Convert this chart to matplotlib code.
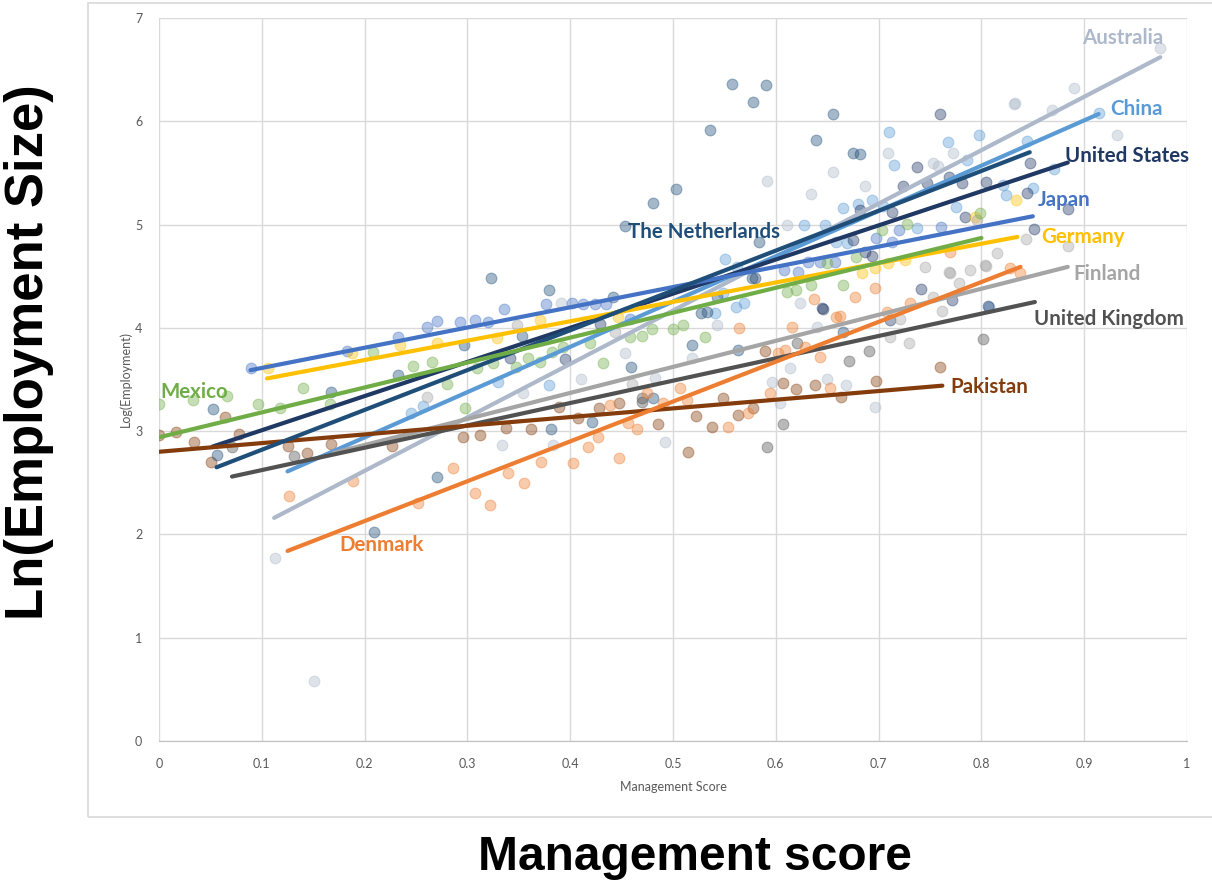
import matplotlib
matplotlib.use("Agg")
import matplotlib.pyplot as plt
from matplotlib.patches import Rectangle

# firm-level observations per country: management score vs log employment
aus_x = [0.113, 0.151, 0.334, 0.383, 0.492, 0.354, 0.410, 0.453, 0.482, 0.518, 0.391, 0.543,
         0.591, 0.611, 0.634, 0.656, 0.687, 0.709, 0.753, 0.758, 0.772, 0.832, 0.833, 0.869,
         0.890, 0.932, 0.974, 0.614, 0.596, 0.604, 0.650, 0.668, 0.696, 0.624, 0.640]
aus_y = [1.77, 0.58, 2.87, 2.87, 2.89, 3.37, 3.50, 3.76, 3.51, 3.71, 4.24, 4.03,
         5.42, 5.00, 5.30, 5.51, 5.37, 5.69, 5.60, 5.57, 5.69, 6.17, 6.18, 6.11,
         6.32, 5.87, 6.71, 3.61, 3.48, 3.27, 3.50, 3.45, 3.23, 4.24, 4.01]

chn_x = [0.257, 0.245, 0.330, 0.379, 0.541, 0.549, 0.561, 0.569, 0.551, 0.562, 0.627, 0.648,
         0.659, 0.669, 0.665, 0.680, 0.694, 0.704, 0.710, 0.715, 0.737, 0.767, 0.775, 0.786,
         0.798, 0.821, 0.824, 0.844, 0.850, 0.871, 0.914, 0.807]
chn_y = [3.24, 3.18, 3.48, 3.45, 4.14, 4.34, 4.20, 4.24, 4.67, 4.59, 5.00, 5.00,
         4.83, 4.82, 5.16, 5.20, 5.24, 5.18, 5.90, 5.58, 4.97, 5.80, 5.17, 5.62,
         5.87, 5.38, 5.29, 5.81, 5.35, 5.54, 6.08, 4.20]

usa_x = [0.760, 0.737, 0.724, 0.768, 0.781, 0.804, 0.784, 0.741, 0.645, 0.682, 0.713, 0.747,
         0.847, 0.844, 0.884, 0.851, 0.675, 0.687, 0.694, 0.580, 0.806, 0.771, 0.711, 0.646,
         0.341, 0.395, 0.429]
usa_y = [6.07, 5.56, 5.37, 5.46, 5.40, 5.41, 5.07, 4.38, 4.19, 5.14, 5.12, 5.40,
         5.60, 5.31, 5.15, 4.96, 4.85, 4.73, 4.70, 4.48, 4.21, 4.27, 4.08, 4.18,
         3.71, 3.70, 4.04]

jpn_x = [0.089, 0.183, 0.232, 0.261, 0.270, 0.293, 0.307, 0.320, 0.336, 0.376, 0.402, 0.412,
         0.424, 0.435, 0.458, 0.608, 0.622, 0.631, 0.643, 0.658, 0.697, 0.713, 0.720, 0.761]
jpn_y = [3.61, 3.78, 3.91, 4.01, 4.07, 4.06, 4.08, 4.06, 4.18, 4.23, 4.24, 4.23,
         4.23, 4.23, 4.09, 4.56, 4.54, 4.64, 4.64, 4.64, 4.87, 4.83, 4.95, 4.98]

deu_x = [0.106, 0.188, 0.234, 0.270, 0.329, 0.371, 0.446, 0.684, 0.696, 0.709, 0.726, 0.794, 0.834]
deu_y = [3.61, 3.76, 3.83, 3.85, 3.90, 4.08, 4.10, 4.53, 4.58, 4.63, 4.66, 5.07, 5.24]

fin_x = [0.745, 0.768, 0.789, 0.803, 0.815, 0.778, 0.804, 0.769, 0.843, 0.884, 0.796,
         0.261, 0.348, 0.444, 0.460, 0.721, 0.711, 0.730, 0.762, 0.753]
fin_y = [4.59, 4.54, 4.56, 4.61, 4.72, 4.43, 4.60, 4.53, 4.86, 4.79, 5.04,
         3.33, 4.03, 3.96, 3.46, 4.09, 3.91, 3.85, 4.16, 4.30]

gbr_x = [0.131, 0.071, 0.802, 0.691, 0.671, 0.607, 0.470, 0.470, 0.591, 0.621]
gbr_y = [2.76, 2.85, 3.89, 3.78, 3.68, 3.07, 3.32, 3.28, 2.85, 3.85]

pak_x = [0.000, 0.017, 0.034, 0.051, 0.064, 0.078, 0.125, 0.144, 0.167, 0.227, 0.296, 0.312,
         0.338, 0.362, 0.389, 0.408, 0.428, 0.447, 0.485, 0.515, 0.522, 0.538, 0.549, 0.563,
         0.578, 0.589, 0.607, 0.620, 0.638, 0.663, 0.697, 0.760]
pak_y = [2.96, 2.99, 2.89, 2.70, 3.14, 2.97, 2.86, 2.79, 2.88, 2.86, 2.94, 2.96,
         3.03, 3.02, 3.23, 3.13, 3.22, 3.27, 3.07, 2.80, 3.15, 3.04, 3.32, 3.16,
         3.22, 3.78, 3.47, 3.41, 3.45, 3.33, 3.49, 3.62]

nld_x = [0.557, 0.578, 0.590, 0.536, 0.503, 0.481, 0.453, 0.379, 0.323, 0.656, 0.639, 0.675,
         0.682, 0.584, 0.577, 0.543, 0.533, 0.442, 0.353, 0.297, 0.232, 0.167, 0.053, 0.056,
         0.209, 0.270, 0.459, 0.518, 0.481, 0.421, 0.381, 0.665, 0.563, 0.527]
nld_y = [6.36, 6.19, 6.35, 5.92, 5.34, 5.21, 4.99, 4.37, 4.48, 6.07, 5.82, 5.69,
         5.68, 4.83, 4.48, 4.30, 4.15, 4.30, 3.92, 3.83, 3.54, 3.38, 3.21, 2.77,
         2.02, 2.56, 3.62, 3.83, 3.32, 3.09, 3.02, 3.96, 3.79, 4.14]

mex_x = [0.000, 0.033, 0.066, 0.096, 0.118, 0.140, 0.166, 0.208, 0.247, 0.266, 0.280, 0.298,
         0.309, 0.325, 0.347, 0.359, 0.371, 0.382, 0.393, 0.419, 0.432, 0.458, 0.470, 0.480,
         0.500, 0.510, 0.531, 0.611, 0.620, 0.634, 0.650, 0.665, 0.678, 0.703, 0.728, 0.799]
mex_y = [3.26, 3.30, 3.34, 3.26, 3.22, 3.42, 3.26, 3.77, 3.63, 3.67, 3.46, 3.22,
         3.61, 3.66, 3.62, 3.71, 3.67, 3.77, 3.81, 3.85, 3.66, 3.91, 3.92, 3.99,
         3.99, 4.03, 3.91, 4.35, 4.37, 4.41, 4.63, 4.41, 4.69, 4.95, 5.01, 5.11]

dnk_x = [0.126, 0.189, 0.252, 0.286, 0.307, 0.322, 0.339, 0.355, 0.372, 0.403, 0.417, 0.427,
         0.439, 0.447, 0.456, 0.465, 0.475, 0.490, 0.507, 0.514, 0.553, 0.564, 0.573, 0.594,
         0.602, 0.609, 0.616, 0.628, 0.637, 0.643, 0.653, 0.659, 0.662, 0.677, 0.696, 0.708,
         0.731, 0.769, 0.828, 0.838]
dnk_y = [2.37, 2.52, 2.30, 2.64, 2.40, 2.28, 2.59, 2.50, 2.70, 2.69, 2.85, 2.94,
         3.25, 2.74, 3.08, 3.02, 3.37, 3.27, 3.42, 3.30, 3.04, 4.00, 3.18, 3.37,
         3.76, 3.79, 4.01, 3.81, 4.28, 3.72, 3.42, 4.10, 4.11, 4.30, 4.39, 4.15,
         4.24, 4.73, 4.58, 4.53]

# series order, colours and linear trend ends (start x, start y, end x, end y)
countries = ["Australia", "China", "United States", "Japan", "Germany", "Finland",
             "United Kingdom", "Pakistan", "The Netherlands", "Mexico", "Denmark"]
colors = ["#ADB9CA", "#5B9BD5", "#203864", "#4472C4", "#FFC000", "#A5A5A5",
          "#525252", "#843C0C", "#1F4E79", "#70AD47", "#ED7D31"]
points = [(aus_x, aus_y), (chn_x, chn_y), (usa_x, usa_y), (jpn_x, jpn_y), (deu_x, deu_y),
          (fin_x, fin_y), (gbr_x, gbr_y), (pak_x, pak_y), (nld_x, nld_y), (mex_x, mex_y),
          (dnk_x, dnk_y)]
trend_x0 = [0.112, 0.125, 0.052, 0.089, 0.105, 0.170, 0.071, 0.000, 0.056, 0.000, 0.125]
trend_y0 = [2.16, 2.61, 2.85, 3.59, 3.51, 2.79, 2.56, 2.80, 2.65, 2.94, 1.84]
trend_x1 = [0.974, 0.914, 0.884, 0.850, 0.835, 0.884, 0.852, 0.762, 0.847, 0.800, 0.838]
trend_y1 = [6.62, 6.07, 5.60, 5.08, 4.88, 4.59, 4.25, 3.44, 5.70, 4.87, 4.59]
label_x = [0.898, 0.925, 0.881, 0.855, 0.858, 0.889, 0.851, 0.770, 0.456, 0.001, 0.175]
label_y = [6.81, 6.12, 5.66, 5.24, 4.88, 4.52, 4.09, 3.43, 4.93, 3.38, 1.90]


def main():
    fig = plt.figure(figsize=(12.12, 8.89), dpi=100)
    ax = fig.add_axes([0.1312, 0.1665, 0.8482, 0.8133])

    # light frame around the chart area (runs off the right edge)
    fig.patches.append(Rectangle((0.073, 0.081), 0.95, 0.916, transform=fig.transFigure,
                                 fill=False, edgecolor="#D9D9D9", linewidth=1.2))

    for i, name in enumerate(countries):
        xs, ys = points[i]
        ax.scatter(xs, ys, s=60, color=colors[i], alpha=0.4, edgecolors=colors[i],
                   linewidths=0.8, zorder=2)

    for i, name in enumerate(countries):
        ax.plot([trend_x0[i], trend_x1[i]], [trend_y0[i], trend_y1[i]], color=colors[i],
                linewidth=3, solid_capstyle="round", zorder=3)
        ax.text(label_x[i], label_y[i], name, color=colors[i], fontsize=14.8,
                fontweight="bold", family="Lato", ha="left", va="center", zorder=4)

    ax.set_xlim(0, 1)
    ax.set_ylim(0, 7)
    ax.set_xticks([i / 10 for i in range(11)])
    ax.set_xticklabels(["0", "0.1", "0.2", "0.3", "0.4", "0.5", "0.6", "0.7", "0.8", "0.9", "1"])
    ax.set_yticks(range(8))
    ax.grid(True, color="#D9D9D9", linewidth=1)
    ax.set_axisbelow(True)
    for side in ["top", "right", "left"]:
        ax.spines[side].set_visible(False)
    ax.spines["bottom"].set_color("#BFBFBF")
    ax.tick_params(length=0, labelsize=9, labelcolor="#595959", pad=12)
    for lbl in ax.get_xticklabels() + ax.get_yticklabels():
        lbl.set_family("Lato")

    ax.set_xlabel("Management Score", fontsize=9, color="#595959", family="Lato", labelpad=8)
    ax.set_ylabel("Log(Employment)", fontsize=9, color="#595959", family="Lato", labelpad=2)

    fig.text(0.024, 0.604, "Ln(Employment Size)", rotation=90, ha="center", va="center",
             fontsize=38, fontweight="bold", family="Liberation Sans")
    fig.text(0.573, 0.035, "Management score", ha="center", va="center",
             fontsize=34.5, fontweight="bold", family="Liberation Sans")

    fig.savefig("out.png", dpi=100)
    plt.close(fig)


if __name__ == "__main__":
    main()
